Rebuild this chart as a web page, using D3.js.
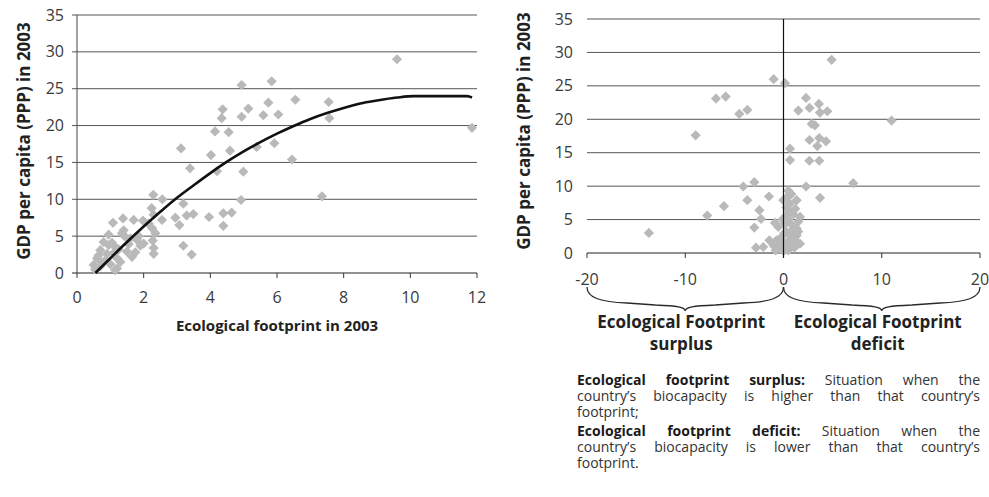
<!DOCTYPE html>
<html>
<head>
<meta charset="utf-8">
<script src="https://cdn.jsdelivr.net/npm/d3@7"></script>
<style>
  html, body { margin: 0; padding: 0; background: #fff; }
  svg { display: block; font-family: "Open Sans", "Noto Sans", sans-serif; }
</style>
</head>
<body>
<svg id="chart" width="989" height="497"></svg>
<script>
// Ecological footprint per capita vs GDP per capita (PPP), 2003
const footprintX = [4.94, 5.84, 9.6, 11.85, 7.35, 6.45, 7.55, 7.57, 6.55, 5.74, 5.14, 4.37, 4.34, 4.94, 5.59, 6.04,
  4.14, 4.55, 5.92, 5.39, 4.59, 4.02, 3.12, 3.39, 4.2, 4.99, 4.92,
  2.29, 2.56, 3.19, 2.24, 3.49, 3.29, 2.95, 3.07, 3.96, 4.39, 4.64, 4.39, 3.19, 3.44, 2.3, 2.55, 2.15, 2.25, 2.35,
  2.27, 2.3, 2.3, 1.38, 1.08, 1.7, 1.98, 1.35, 1.6, 1.8, 1.9, 1.5, 1.75, 0.8, 0.95, 0.7, 0.9, 0.6, 1.1, 1.25, 1.2,
  0.5, 0.7, 1.0, 1.2, 0.54, 1.14, 1.45, 1.55, 1.05, 1.3, 0.85, 1.65, 2.0, 1.15, 0.75, 1.4, 1.85, 0.95, 0.65];
const gdpLeft = [25.5, 26.0, 29.0, 19.7, 10.4, 15.4, 23.2, 21.0, 23.5, 23.1, 22.3, 22.2, 21.0, 21.2, 21.4, 21.5,
  19.2, 19.1, 17.6, 17.1, 16.6, 16.0, 16.9, 14.2, 13.8, 13.75, 9.9,
  10.6, 10.0, 9.4, 8.8, 8.0, 7.8, 7.5, 6.5, 7.6, 8.1, 8.2, 6.4, 3.7, 2.5, 7.9, 7.2, 6.7, 6.1, 5.4,
  4.4, 3.4, 2.6, 7.4, 6.8, 7.2, 7.1, 5.4, 4.7, 4.5, 3.7, 2.9, 2.8, 4.2, 3.8, 3.1, 2.6, 2.0, 2.7, 3.2, 2.0,
  1.1, 0.9, 1.2, 0.6, 0.5, 0.4, 4.9, 3.9, 4.1, 1.5, 1.7, 2.2, 4.0, 3.5, 1.4, 5.8, 5.0, 5.2, 2.4];

// Polynomial trend line, sampled along the footprint axis
const trendX = [0.55, 1, 1.5, 2, 2.5, 3, 3.5, 4, 4.5, 5, 5.5, 6, 6.5, 7, 7.5, 8, 8.5, 9, 9.6, 10.1, 11.7, 11.85];
const trendY = [0, 2.0, 4.2, 6.3, 8.3, 10.2, 11.9, 13.55, 15.1, 16.5, 17.75, 18.9, 19.95, 20.9, 21.7, 22.4, 23.0, 23.4, 23.8, 24.0, 24.0, 23.8];

// Footprint minus biocapacity vs GDP per capita
const balanceX = [-13.7, -8.94, -6.87, -5.88, -4.5, -3.68, -4.09, -3.68, -6.06, -7.76, -2.97, -1.48, -2.46, -2.29,
  -2.97, -0.87, -1.44, -2.8, -2.06, -1.0, 0.15, 4.9, 2.29, 2.65, 1.51, 3.6, 3.71, 4.46, 11.0, 2.87, 3.2, 2.65, 3.64,
  4.33, 3.44, 0.66, 0.66, 2.63, 3.64, 7.1, 2.29, 3.72, 0.49, -0.02, 1.34, 0.66, 1.68, 1.51, -0.53, 0.15, 0.83, 1.34,
  0.32, -0.19, 0.83, 1.34, -0.7, 0.15, 0.83, -0.36, 0.49, 1.68, 0.3, 0.6, 1.0, 0.2, 1.2, 0.5, 0.9, 0.1, -0.3, 0.6,
  1.1, 0.0, -1.0, -0.8, 1.5, 0.4, 0.8, -0.1, 1.1, 0.3];
const gdpRight = [3.0, 17.6, 23.1, 23.4, 20.8, 21.4, 9.95, 7.9, 7.0, 5.6, 10.6, 8.45, 6.4, 5.1,
  3.8, 4.5, 1.9, 0.8, 0.9, 26.0, 25.4, 28.9, 23.2, 21.7, 21.3, 22.3, 21.0, 21.2, 19.8, 19.3, 19.1, 16.9, 17.2,
  16.7, 16.0, 15.6, 13.9, 13.8, 13.8, 10.45, 9.95, 8.25, 9.3, 7.9, 7.9, 7.4, 5.4, 4.7, 3.9, 4.4, 4.2, 3.65,
  3.15, 2.4, 2.4, 2.6, 1.9, 1.4, 1.15, 0.65, 0.4, 1.4, 6.8, 6.2, 5.8, 5.5, 6.6, 5.0, 3.4, 3.0, 1.5, 1.9,
  0.8, 0.3, 1.1, 0.4, 3.2, 8.4, 8.8, 5.0, 2.0, 1.0];

const yTicks = [0, 5, 10, 15, 20, 25, 30, 35];
const xTicksLeft = [0, 2, 4, 6, 8, 10, 12];
const xTicksRight = [-20, -10, 0, 10, 20];

const svg = d3.select("#chart");
const gridColor = "#555";
const markerColor = "#b9b9b9";
const labelColor = "#3a3a3a";
const tickFont = 16;
const titleFont = 17;
const diamond = d3.symbol().type(d3.symbolSquare).size(52);

// ---------- left panel ----------
const xL = d3.scaleLinear().domain([0, 12]).range([77, 477]);
const yL = d3.scaleLinear().domain([0, 35]).range([273, 15]);
const left = svg.append("g");

left.selectAll("line.grid").data(yTicks).join("line")
  .attr("x1", xL(0) - 5).attr("x2", xL(12))
  .attr("y1", d => yL(d)).attr("y2", d => yL(d))
  .attr("stroke", d => d === 0 ? "#222" : gridColor).attr("stroke-width", 1);
left.append("line").attr("x1", xL(0)).attr("x2", xL(0)).attr("y1", yL(35)).attr("y2", yL(0))
  .attr("stroke", "#444");
left.selectAll("line.xt").data(xTicksLeft).join("line")
  .attr("x1", d => xL(d)).attr("x2", d => xL(d)).attr("y1", yL(0)).attr("y2", yL(0) + 5)
  .attr("stroke", "#333");
left.selectAll("text.yl").data(yTicks).join("text")
  .attr("x", 64).attr("y", d => yL(d)).attr("dy", "0.35em")
  .attr("text-anchor", "end").attr("font-size", tickFont).attr("fill", labelColor).text(d => d);
left.selectAll("text.xl").data(xTicksLeft).join("text")
  .attr("x", d => xL(d)).attr("y", yL(0) + 24).attr("dy", "0.35em")
  .attr("text-anchor", "middle").attr("font-size", tickFont).attr("fill", labelColor).text(d => d);

left.selectAll("path.pt").data(footprintX.map((x, i) => [x, gdpLeft[i]])).join("path")
  .attr("d", diamond).attr("fill", markerColor)
  .attr("transform", d => `translate(${xL(d[0])},${yL(d[1])}) rotate(45)`);

left.append("path")
  .datum(trendX.map((x, i) => [x, trendY[i]]))
  .attr("fill", "none").attr("stroke", "#111").attr("stroke-width", 2.6)
  .attr("d", d3.line().x(d => xL(d[0])).y(d => yL(d[1])).curve(d3.curveMonotoneX));

left.append("text").attr("transform", "translate(30,141) rotate(-90)")
  .attr("text-anchor", "middle").attr("font-size", titleFont).attr("font-weight", 700).attr("fill", "#222")
  .text("GDP per capita (PPP) in 2003");
left.append("text").attr("x", 277).attr("y", 331)
  .attr("text-anchor", "middle").attr("font-size", 15).attr("font-weight", 700).attr("fill", "#222")
  .text("Ecological footprint in 2003");

// ---------- right panel ----------
const xR = d3.scaleLinear().domain([-20, 20]).range([587, 980]);
const yR = d3.scaleLinear().domain([0, 35]).range([253, 19]);
const right = svg.append("g");

right.selectAll("line.grid").data(yTicks).join("line")
  .attr("x1", xR(-20)).attr("x2", xR(20))
  .attr("y1", d => yR(d)).attr("y2", d => yR(d))
  .attr("stroke", d => d === 0 ? "#222" : gridColor).attr("stroke-width", 1);
right.selectAll("line.xt").data(xTicksRight).join("line")
  .attr("x1", d => xR(d)).attr("x2", d => xR(d)).attr("y1", yR(0)).attr("y2", yR(0) + 5)
  .attr("stroke", "#333");
right.selectAll("text.yl").data(yTicks).join("text")
  .attr("x", 573).attr("y", d => yR(d)).attr("dy", "0.35em")
  .attr("text-anchor", "end").attr("font-size", tickFont).attr("fill", labelColor).text(d => d);
right.selectAll("text.xl").data(xTicksRight).join("text")
  .attr("x", d => xR(d)).attr("y", yR(0) + 26).attr("dy", "0.35em")
  .attr("text-anchor", "middle").attr("font-size", tickFont).attr("fill", labelColor).text(d => d);

right.selectAll("path.pt").data(balanceX.map((x, i) => [x, gdpRight[i]])).join("path")
  .attr("d", diamond).attr("fill", markerColor)
  .attr("transform", d => `translate(${xR(d[0])},${yR(d[1])}) rotate(45)`);

// vertical axis crossing at zero balance
right.append("line").attr("x1", xR(0)).attr("x2", xR(0)).attr("y1", yR(35)).attr("y2", yR(0) + 5)
  .attr("stroke", "#111").attr("stroke-width", 1.2);

right.append("text").attr("transform", "translate(530,131) rotate(-90)")
  .attr("text-anchor", "middle").attr("font-size", titleFont).attr("font-weight", 700).attr("fill", "#222")
  .text("GDP per capita (PPP) in 2003");

// curly braces under the axis
function brace(x0, x1, top, tip) {
  const xm = (x0 + x1) / 2, mid = top + 15;
  return `M${x0},${top} C${x0},${top + 11} ${x0 + 14},${mid} ${x0 + 40},${mid + 1}` +
    ` L${xm - 30},${mid + 3} C${xm - 8},${mid + 4} ${xm},${mid + 5} ${xm},${tip}` +
    ` C${xm},${mid + 5} ${xm + 8},${mid + 4} ${xm + 30},${mid + 3}` +
    ` L${x1 - 40},${mid + 1} C${x1 - 14},${mid} ${x1},${top + 11} ${x1},${top}`;
}
[[-20, 0], [0, 20]].forEach(([a, b]) => {
  right.append("path").attr("d", brace(xR(a), xR(b), 287, 311))
    .attr("fill", "none").attr("stroke", "#2a2a2a").attr("stroke-width", 1.3);
});
const braceLabels = [["Ecological Footprint", "surplus"], ["Ecological Footprint", "deficit"]];
const braceCenters = [-10, 10];
braceLabels.forEach((lines, i) => {
  lines.forEach((t, j) => {
    right.append("text").attr("x", xR(braceCenters[i]) - 4).attr("y", 328 + j * 22)
      .attr("text-anchor", "middle").attr("font-size", 17).attr("font-weight", 700).attr("fill", "#222")
      .text(t);
  });
});

// definitions paragraph, justified between two edges
const noteLines = [
  { words: [["Ecological", 1], ["footprint", 1], ["surplus:", 1], ["Situation", 0], ["when", 0], ["the", 0]], justify: true },
  { words: [["country\u2019s", 0], ["biocapacity", 0], ["is", 0], ["higher", 0], ["than", 0], ["that", 0], ["country\u2019s", 0]], justify: true },
  { words: [["footprint;", 0]], justify: false },
  { words: [["Ecological", 1], ["footprint", 1], ["deficit:", 1], ["Situation", 0], ["when", 0], ["the", 0]], justify: true },
  { words: [["country\u2019s", 0], ["biocapacity", 0], ["is", 0], ["lower", 0], ["than", 0], ["that", 0], ["country\u2019s", 0]], justify: true },
  { words: [["footprint.", 0]], justify: false }
];
const noteLeft = 577, noteRight = 980;
const noteBaselines = [385, 401, 416.5, 436, 452, 467.5];
const notes = svg.append("g");
noteLines.forEach((ln, i) => {
  const y = noteBaselines[i];
  const nodes = ln.words.map(([w, b]) => notes.append("text")
    .attr("y", y).attr("font-size", 14).attr("font-weight", b ? 700 : 400)
    .attr("fill", b ? "#1a1a1a" : "#333").text(w));
  const widths = nodes.map(n => n.node().getComputedTextLength());
  const total = d3.sum(widths);
  const gap = ln.justify && nodes.length > 1 ? (noteRight - noteLeft - total) / (nodes.length - 1) : 3.8;
  let x = noteLeft;
  nodes.forEach((n, k) => { n.attr("x", x); x += widths[k] + gap; });
});
</script>
</body>
</html>
